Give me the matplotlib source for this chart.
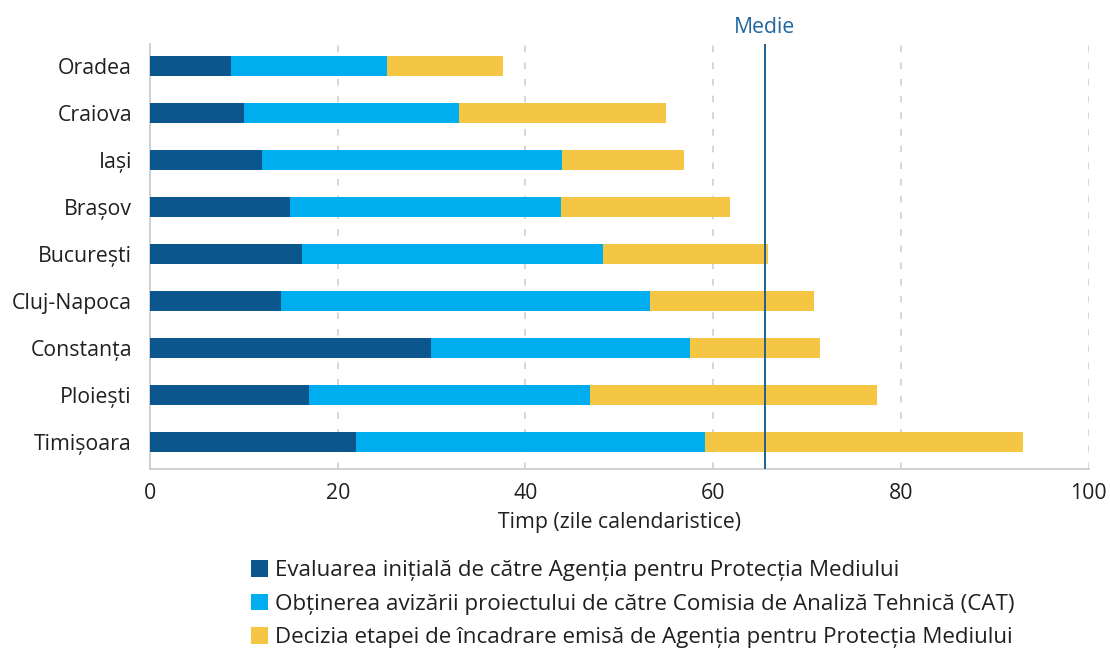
import matplotlib
matplotlib.use("Agg")
import matplotlib.pyplot as plt
from matplotlib.patches import Patch

cities = ["Oradea", "Craiova", "Iași", "Brașov", "București", "Cluj-Napoca",
          "Constanța", "Ploiești", "Timișoara"]
eval_initiala = [8.6, 10.0, 11.9, 14.9, 16.2, 14.0, 29.9, 16.9, 22.0]
avizare_cat = [16.7, 22.9, 32.0, 28.9, 32.1, 39.3, 27.6, 30.0, 37.1]
decizie = [12.3, 22.1, 13.0, 18.0, 17.5, 17.5, 13.9, 30.6, 33.9]
medie = 65.5

labels = ["Evaluarea inițială de către Agenția pentru Protecția Mediului",
          "Obținerea avizării proiectului de către Comisia de Analiză Tehnică (CAT)",
          "Decizia etapei de încadrare emisă de Agenția pentru Protecția Mediului"]
colors = ["#0b578d", "#00aeef", "#f5c644"]
xticks = [0, 20, 40, 60, 80, 100]

plt.rcParams['font.family'] = ['Open Sans', 'DejaVu Sans']
text_color = "#231f20"
fs = 15.3

fig = plt.figure(figsize=(11.10, 6.52), dpi=100)
ax = fig.add_axes([150/1110, 1-469/652, (1088.5-150)/1110, (469-44)/652])

n = len(cities)
ypos = [n - 1 - i for i in range(n)]
left2 = [a for a in eval_initiala]
left3 = [a + b for a, b in zip(eval_initiala, avizare_cat)]
h = 0.43
ax.barh(ypos, eval_initiala, height=h, color=colors[0], zorder=3)
ax.barh(ypos, avizare_cat, left=left2, height=h, color=colors[1], zorder=3)
ax.barh(ypos, decizie, left=left3, height=h, color=colors[2], zorder=3)

ax.set_xlim(0, 100)
ax.set_ylim(-0.57, 8.47)
ax.set_xticks(xticks)
ax.set_xticklabels([str(t) for t in xticks], fontsize=fs, color=text_color)
ax.set_yticks(ypos)
ax.set_yticklabels(cities, fontsize=fs, color=text_color)
ax.tick_params(axis='x', length=0, pad=10)
ax.tick_params(axis='y', length=0, pad=13)
for t in xticks[1:]:
    ax.axvline(t, color="#d0d0d0", lw=1.2, ls=(0, (4, 6)), zorder=1)
for s in ["top", "right"]:
    ax.spines[s].set_visible(False)
ax.spines["left"].set_color("#c8c8c8")
ax.spines["bottom"].set_color("#c8c8c8")
ax.spines["left"].set_linewidth(1.2)
ax.spines["bottom"].set_linewidth(1.2)

ax.axvline(medie, color="#1f5f8f", lw=1.4, zorder=4, ymin=0, ymax=1.0)
ax.text(medie, 8.6, "Medie", ha="center", va="bottom", fontsize=fs,
        color="#1f66a0", clip_on=False)

ax.set_xlabel("Timp (zile calendaristice)", fontsize=fs, color=text_color, labelpad=6)

handles = [Patch(facecolor=c, edgecolor="none") for c in colors]
fig.legend(handles, labels, loc="upper left", bbox_to_anchor=(240/1110, 1-549/652),
           frameon=False, fontsize=16.1, handlelength=0.76, handleheight=0.76,
           handletextpad=0.3, labelspacing=0.56, borderpad=0, labelcolor=text_color)

fig.savefig("out.png", dpi=100)
